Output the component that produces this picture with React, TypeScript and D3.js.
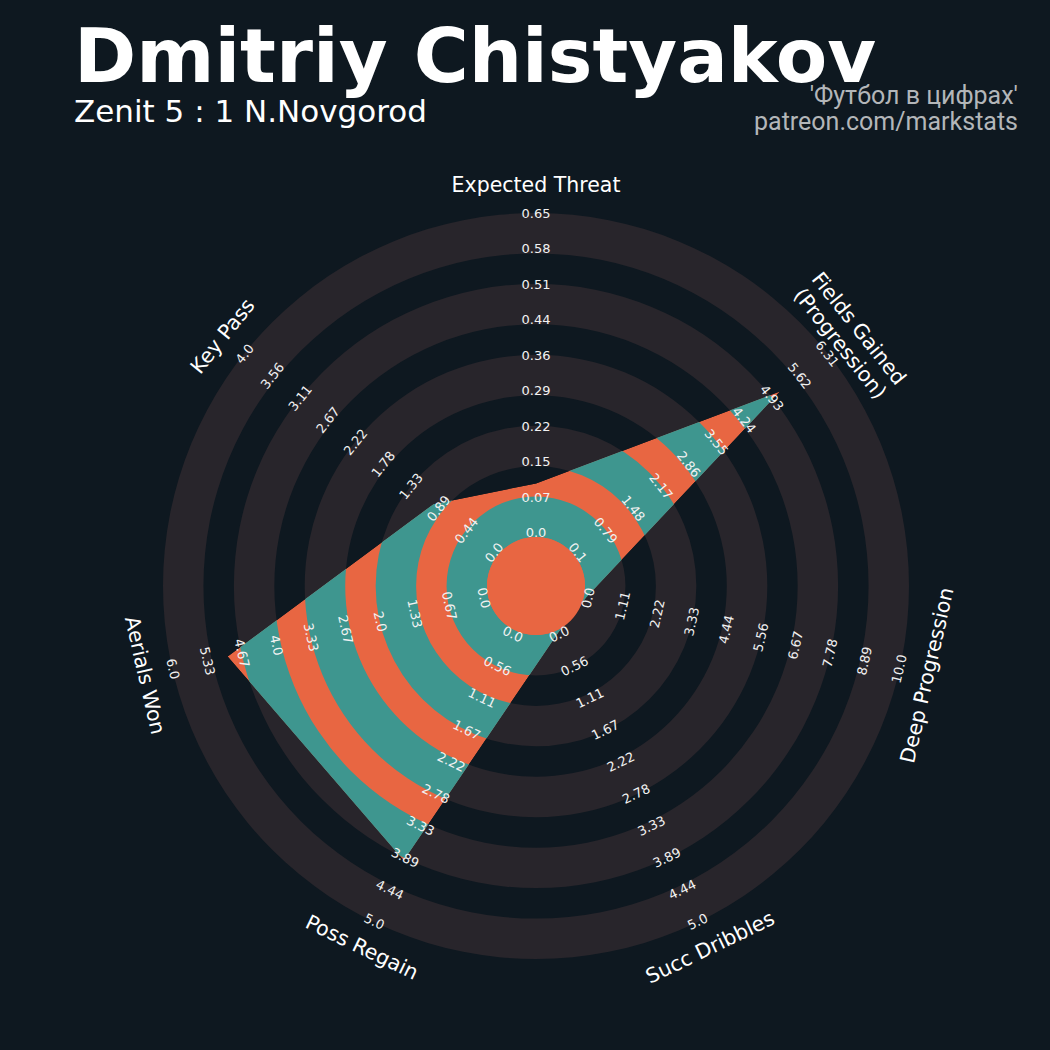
import React from 'react';
import * as d3 from 'd3';

// ---------- data ----------
const params = [
  'Expected Threat',
  'Fields Gained\n(Progression)',
  'Deep Progression',
  'Succ Dribbles',
  'Poss Regain',
  'Aerials Won',
  'Key Pass',
];
const minRange = [0, 0.1, 0, 0, 0, 0, 0];
const maxRange = [0.65, 6.31, 10, 5, 5, 6, 4];
const playerValues = [0.104, 5.17, 0, 0, 3.97, 4.98, 1.0];

const tickXT = ['0.0', '0.07', '0.15', '0.22', '0.29', '0.36', '0.44', '0.51', '0.58', '0.65'];
const tickFG = ['0.1', '0.79', '1.48', '2.17', '2.86', '3.55', '4.24', '4.93', '5.62', '6.31'];
const tickDP = ['0.0', '1.11', '2.22', '3.33', '4.44', '5.56', '6.67', '7.78', '8.89', '10.0'];
const tickSD = ['0.0', '0.56', '1.11', '1.67', '2.22', '2.78', '3.33', '3.89', '4.44', '5.0'];
const tickPR = ['0.0', '0.56', '1.11', '1.67', '2.22', '2.78', '3.33', '3.89', '4.44', '5.0'];
const tickAW = ['0.0', '0.67', '1.33', '2.0', '2.67', '3.33', '4.0', '4.67', '5.33', '6.0'];
const tickKP = ['0.0', '0.44', '0.89', '1.33', '1.78', '2.22', '2.67', '3.11', '3.56', '4.0'];
const tickLabels = [tickXT, tickFG, tickDP, tickSD, tickPR, tickAW, tickKP];

const title = 'Dmitriy Chistyakov';
const subtitle = 'Zenit 5 : 1 N.Novgorod';
const credit1 = "'Футбол в цифрах'";
const credit2 = 'patreon.com/markstats';

// ---------- layout / style ----------
const W = 1050;
const H = 1050;
const CX = 536;
const CY = 586;
const R_IN = 51.5;
const R_OUT = 370.5;
const NUM_RINGS = 9;
const RING_PAD = 2.5;
const LABEL_R = 401;
const BG = '#0e1820';
const RING = '#28252b';
const TEAL = '#3e968f';
const ORANGE = '#e86642';

const ringScale = d3.scaleLinear().domain([0, NUM_RINGS]).range([R_IN, R_OUT]);
const angleScale = d3
  .scaleLinear()
  .domain([0, params.length])
  .range([90, 90 - 360]);

const rad = (deg: number) => (deg * Math.PI) / 180;
const pt = (r: number, deg: number): [number, number] => [
  CX + r * Math.cos(rad(deg)),
  CY - r * Math.sin(rad(deg)),
];
const textRot = (deg: number) => {
  let r = 90 - deg;
  while (r > 90) r -= 180;
  while (r <= -90) r += 180;
  return r;
};

export default function App() {
  const valueScales = params.map((_, i) =>
    d3.scaleLinear().domain([minRange[i], maxRange[i]]).range([R_IN, R_OUT])
  );
  const polyPts = playerValues.map((v, i) => pt(valueScales[i](v), angleScale(i)));
  const polyPath = d3.line()(polyPts.concat([polyPts[0]])) + 'Z';

  const bandIdx = d3.range(0, NUM_RINGS + 1, 2);
  const arc = d3.arc();
  const bands = bandIdx.map((k) =>
    arc({
      innerRadius: ringScale(k) - RING_PAD,
      outerRadius: ringScale(k + 1) + RING_PAD,
      startAngle: 0,
      endAngle: 2 * Math.PI,
    } as any) as string
  );
  const centerR = ringScale(0) - RING_PAD;

  return (
    <svg
      width={W}
      height={H}
      style={{ position: 'fixed', left: 0, top: 0, background: BG }}
      xmlns="http://www.w3.org/2000/svg"
    >
      <rect x={0} y={0} width={W} height={H} fill={BG} />
      <defs>
        <clipPath id="radarClip">
          <path d={polyPath} />
        </clipPath>
      </defs>

      {/* background rings */}
      <g transform={`translate(${CX},${CY})`}>
        {bands.map((d, i) => (
          <path key={i} d={d} fill={RING} />
        ))}
      </g>

      {/* radar */}
      <g clipPath="url(#radarClip)">
        <path d={polyPath} fill={ORANGE} />
        <g transform={`translate(${CX},${CY})`}>
          {bands.map((d, i) => (
            <path key={i} d={d} fill={TEAL} />
          ))}
        </g>
      </g>
      <circle cx={CX} cy={CY} r={centerR} fill={ORANGE} />

      {/* range labels */}
      {tickLabels.map((labels, i) => {
        const a = angleScale(i);
        const rot = textRot(a);
        return labels.map((t, k) => {
          const [x, y] = pt(ringScale(k) + 2, a);
          return (
            <text
              key={`${i}-${k}`}
              x={x}
              y={y}
              transform={`rotate(${rot},${x},${y})`}
              textAnchor="middle"
              dominantBaseline="central"
              fontFamily="DejaVu Sans"
              fontSize={13}
              fill="#f2f2f2"
            >
              {t}
            </text>
          );
        });
      })}

      {/* param labels */}
      {params.map((p, i) => {
        const a = angleScale(i);
        const rot = textRot(a);
        const [x, y] = pt(LABEL_R, a);
        const lines = p.split('\n');
        const lh = 24;
        return (
          <text
            key={p}
            x={x}
            y={y}
            transform={`rotate(${rot},${x},${y})`}
            textAnchor="middle"
            dominantBaseline="central"
            fontFamily="DejaVu Sans"
            fontSize={20.5}
            fill="#ffffff"
          >
            {lines.map((l, j) => (
              <tspan key={j} x={x} y={y + (j - (lines.length - 1) / 2) * lh}>
                {l}
              </tspan>
            ))}
          </text>
        );
      })}

      {/* titles */}
      <text x={74} y={82} fontFamily="DejaVu Sans" fontWeight="bold" fontSize={75} fill="#ffffff">
        {title}
      </text>
      <text x={74} y={122} fontFamily="DejaVu Sans" fontSize={31} fill="#ffffff">
        {subtitle}
      </text>
      <text x={1018} y={104} textAnchor="end" fontFamily="Roboto" fontSize={25} fill="#b3b6b9">
        {credit1}
      </text>
      <text x={1018} y={130} textAnchor="end" fontFamily="Roboto" fontSize={25} fill="#b3b6b9">
        {credit2}
      </text>
    </svg>
  );
}
